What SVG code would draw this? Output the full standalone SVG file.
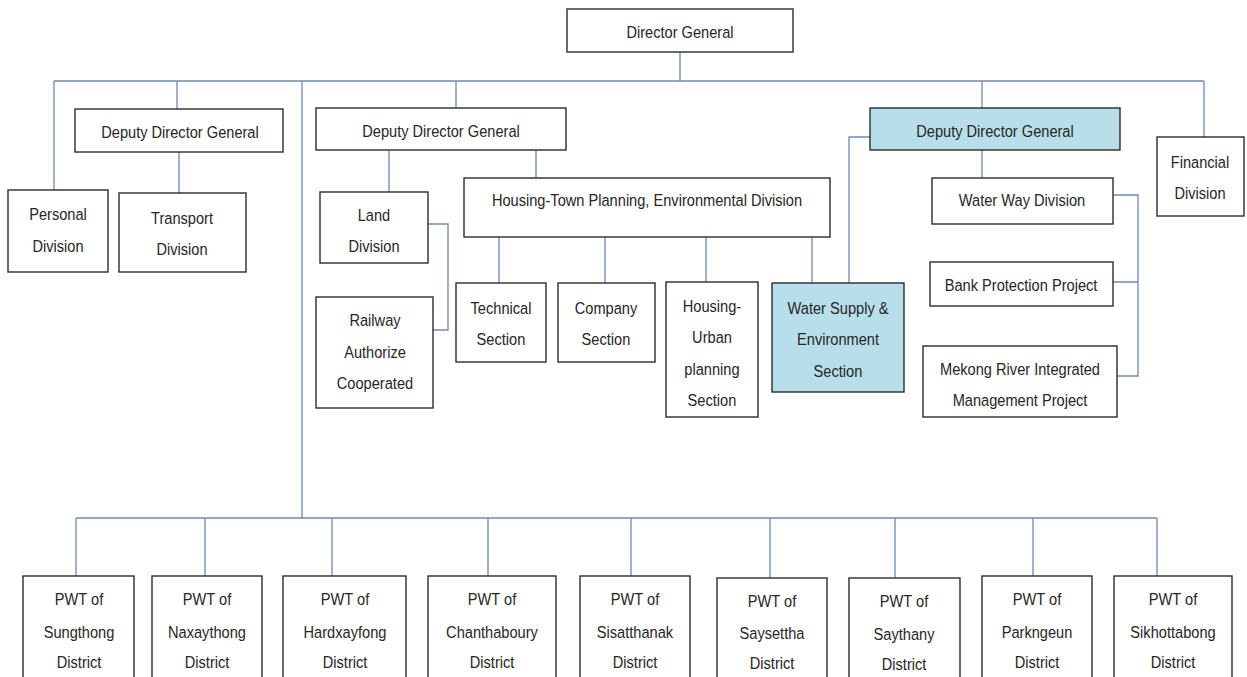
<svg xmlns="http://www.w3.org/2000/svg" width="1247" height="677" viewBox="0 0 1247 677">
  <style>
    .box { fill: #ffffff; stroke: #2b2b2b; stroke-width: 1.4; }
    .hl { fill: #b8dee9; }
    .ln { fill: none; stroke: #7189b4; stroke-width: 1.3; }
    text { font-family: "Liberation Sans", Arial, sans-serif; font-size: 17px; fill: #262626; text-anchor: middle; dominant-baseline: central; transform-box: fill-box; transform-origin: center; transform: scaleX(0.86); }
  </style>
  <rect width="1247" height="677" fill="#ffffff"/>

  <g id="connectors">
    <!-- top level bus -->
    <path class="ln" d="M680 52V81M54 81H1204M54 81V190M177 81V109M456 81V108M982 81V108M1204 81V137M302 81V518"/>
    <!-- left deputy -->
    <path class="ln" d="M179 152V193"/>
    <!-- middle deputy -->
    <path class="ln" d="M389 150V192M536 150V178M428 224H448V330H433"/>
    <path class="ln" d="M499 237V283M605 237V283M706 237V282M812 237V283"/>
    <!-- right deputy -->
    <path class="ln" d="M870 137H849V283M982 150V178M1113 195H1138V376H1117M1113 282H1138"/>
    <!-- district bus -->
    <path class="ln" d="M76 518H1157M76 518V576M205 518V576M332 518V576M488 518V576M631 518V576M770 518V578M895 518V578M1033 518V576M1157 518V576"/>
  </g>

  <g id="director-general">
    <rect class="box" x="567" y="9" width="226" height="43"/>
    <text x="680" y="32">Director General</text>
  </g>

  <g id="personal-division">
    <rect class="box" x="8" y="190" width="100" height="82"/>
    <text x="58" y="214">Personal</text>
    <text x="58" y="246">Division</text>
  </g>

  <g id="deputy-left">
    <rect class="box" x="75" y="109" width="208" height="43"/>
    <text x="180" y="132">Deputy Director General</text>
  </g>

  <g id="transport-division">
    <rect class="box" x="119" y="193" width="127" height="79"/>
    <text x="182" y="218">Transport</text>
    <text x="182" y="249">Division</text>
  </g>

  <g id="deputy-middle">
    <rect class="box" x="316" y="108" width="250" height="42"/>
    <text x="441" y="131">Deputy Director General</text>
  </g>

  <g id="land-division">
    <rect class="box" x="320" y="192" width="108" height="71"/>
    <text x="374" y="215">Land</text>
    <text x="374" y="246">Division</text>
  </g>

  <g id="railway">
    <rect class="box" x="316" y="297" width="117" height="111"/>
    <text x="375" y="320">Railway</text>
    <text x="375" y="352">Authorize</text>
    <text x="375" y="383">Cooperated</text>
  </g>

  <g id="housing-town-planning">
    <rect class="box" x="464" y="178" width="366" height="59"/>
    <text x="647" y="200">Housing-Town Planning, Environmental Division</text>
  </g>

  <g id="technical-section">
    <rect class="box" x="456" y="283" width="90" height="79"/>
    <text x="501" y="308">Technical</text>
    <text x="501" y="339">Section</text>
  </g>

  <g id="company-section">
    <rect class="box" x="558" y="283" width="97" height="79"/>
    <text x="606" y="308">Company</text>
    <text x="606" y="339">Section</text>
  </g>

  <g id="housing-urban-planning">
    <rect class="box" x="666" y="282" width="92" height="135"/>
    <text x="712" y="306">Housing-</text>
    <text x="712" y="337">Urban</text>
    <text x="712" y="369">planning</text>
    <text x="712" y="400">Section</text>
  </g>

  <g id="water-supply-section">
    <rect class="box hl" x="772" y="283" width="132" height="109"/>
    <text x="838" y="308">Water Supply &amp;</text>
    <text x="838" y="339">Environment</text>
    <text x="838" y="371">Section</text>
  </g>

  <g id="deputy-right">
    <rect class="box hl" x="870" y="108" width="250" height="42"/>
    <text x="995" y="131">Deputy Director General</text>
  </g>

  <g id="water-way-division">
    <rect class="box" x="932" y="178" width="181" height="46"/>
    <text x="1022" y="200">Water Way Division</text>
  </g>

  <g id="bank-protection">
    <rect class="box" x="930" y="262" width="183" height="44"/>
    <text x="1021" y="285">Bank Protection Project</text>
  </g>

  <g id="mekong-river">
    <rect class="box" x="923" y="346" width="194" height="71"/>
    <text x="1020" y="369">Mekong River Integrated</text>
    <text x="1020" y="400">Management Project</text>
  </g>

  <g id="financial-division">
    <rect class="box" x="1157" y="137" width="87" height="79"/>
    <text x="1200" y="162">Financial</text>
    <text x="1200" y="193">Division</text>
  </g>

  <g id="pwt-sungthong">
    <rect class="box" x="23" y="576" width="111" height="130"/>
    <text x="79" y="599">PWT of</text>
    <text x="79" y="632">Sungthong</text>
    <text x="79" y="662">District</text>
  </g>

  <g id="pwt-naxaythong">
    <rect class="box" x="152" y="576" width="110" height="130"/>
    <text x="207" y="599">PWT of</text>
    <text x="207" y="632">Naxaythong</text>
    <text x="207" y="662">District</text>
  </g>

  <g id="pwt-hardxayfong">
    <rect class="box" x="283" y="576" width="123" height="130"/>
    <text x="345" y="599">PWT of</text>
    <text x="345" y="632">Hardxayfong</text>
    <text x="345" y="662">District</text>
  </g>

  <g id="pwt-chanthaboury">
    <rect class="box" x="428" y="576" width="128" height="130"/>
    <text x="492" y="599">PWT of</text>
    <text x="492" y="632">Chanthaboury</text>
    <text x="492" y="662">District</text>
  </g>

  <g id="pwt-sisatthanak">
    <rect class="box" x="580" y="576" width="110" height="130"/>
    <text x="635" y="599">PWT of</text>
    <text x="635" y="632">Sisatthanak</text>
    <text x="635" y="662">District</text>
  </g>

  <g id="pwt-saysettha">
    <rect class="box" x="717" y="578" width="110" height="130"/>
    <text x="772" y="601">PWT of</text>
    <text x="772" y="633">Saysettha</text>
    <text x="772" y="663">District</text>
  </g>

  <g id="pwt-saythany">
    <rect class="box" x="849" y="578" width="111" height="130"/>
    <text x="904" y="601">PWT of</text>
    <text x="904" y="634">Saythany</text>
    <text x="904" y="664">District</text>
  </g>

  <g id="pwt-parkngeun">
    <rect class="box" x="982" y="576" width="110" height="130"/>
    <text x="1037" y="599">PWT of</text>
    <text x="1037" y="632">Parkngeun</text>
    <text x="1037" y="662">District</text>
  </g>

  <g id="pwt-sikhottabong">
    <rect class="box" x="1114" y="576" width="118" height="130"/>
    <text x="1173" y="599">PWT of</text>
    <text x="1173" y="632">Sikhottabong</text>
    <text x="1173" y="662">District</text>
  </g>
</svg>
